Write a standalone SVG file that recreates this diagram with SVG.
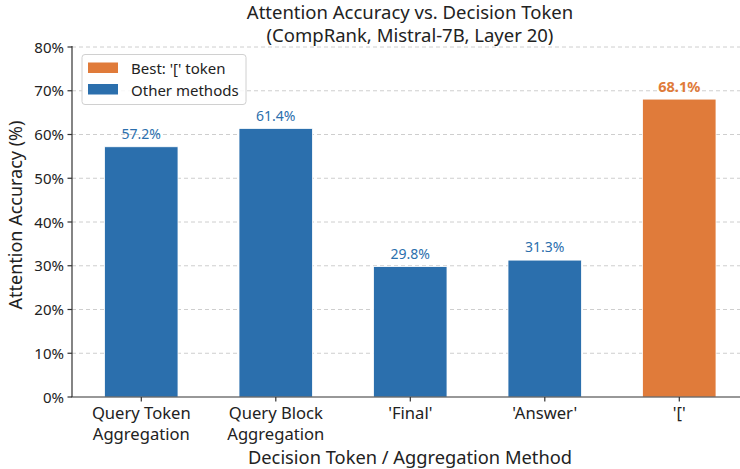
<svg xmlns="http://www.w3.org/2000/svg" width="740" height="469" viewBox="0 0 740 469">
<style>
text{font-family:"Noto Sans","Open Sans","DejaVu Sans",sans-serif;fill:#222}
.grid{stroke:#c8c8c8;stroke-width:0.9;stroke-dasharray:4,3}
.tick{font-size:15px}
.val{font-size:14px;fill:#2b6fad;text-anchor:middle}
.blue{fill:#2b6fad;stroke:#fff;stroke-width:0.8}
.orange{fill:#e07b3a;stroke:#fff;stroke-width:0.8}
.spine{stroke:#333;stroke-width:1.2}
</style>
<rect width="740" height="469" fill="#fff"/>
<g id="grid">
<line class="grid" x1="72" y1="47" x2="740" y2="47"/>
<line class="grid" x1="72" y1="90.75" x2="740" y2="90.75"/>
<line class="grid" x1="72" y1="134.5" x2="740" y2="134.5"/>
<line class="grid" x1="72" y1="178.25" x2="740" y2="178.25"/>
<line class="grid" x1="72" y1="222" x2="740" y2="222"/>
<line class="grid" x1="72" y1="265.75" x2="740" y2="265.75"/>
<line class="grid" x1="72" y1="309.5" x2="740" y2="309.5"/>
<line class="grid" x1="72" y1="353.25" x2="740" y2="353.25"/>
</g>
<g id="bar-query-token"><rect class="blue" x="104.5" y="146.75" width="73.5" height="250.25"/><text class="val" x="141.3" y="139">57.2%</text></g>
<g id="bar-query-block"><rect class="blue" x="239" y="128.4" width="73.5" height="268.6"/><text class="val" x="275.8" y="121">61.4%</text></g>
<g id="bar-final"><rect class="blue" x="373.5" y="266.6" width="73.5" height="130.4"/><text class="val" x="410.3" y="259">29.8%</text></g>
<g id="bar-answer"><rect class="blue" x="508" y="260.1" width="73.5" height="136.9"/><text class="val" x="544.8" y="252">31.3%</text></g>
<g id="bar-bracket"><rect class="orange" x="642.5" y="99.1" width="73.5" height="297.9"/><text class="val" x="679.3" y="91.5" style="fill:#e07b3a;font-weight:bold;font-size:14.5px">68.1%</text></g>
<g id="axes">
<line class="spine" x1="72" y1="46" x2="72" y2="397"/>
<line class="spine" x1="71.4" y1="397" x2="740" y2="397"/>
<g stroke="#333" stroke-width="1.2">
<line x1="67.5" y1="47" x2="72" y2="47"/><line x1="67.5" y1="90.75" x2="72" y2="90.75"/><line x1="67.5" y1="134.5" x2="72" y2="134.5"/><line x1="67.5" y1="178.25" x2="72" y2="178.25"/><line x1="67.5" y1="222" x2="72" y2="222"/><line x1="67.5" y1="265.75" x2="72" y2="265.75"/><line x1="67.5" y1="309.5" x2="72" y2="309.5"/><line x1="67.5" y1="353.25" x2="72" y2="353.25"/><line x1="67.5" y1="397" x2="72" y2="397"/>
<line x1="141.3" y1="397" x2="141.3" y2="401.5"/><line x1="275.8" y1="397" x2="275.8" y2="401.5"/><line x1="410.3" y1="397" x2="410.3" y2="401.5"/><line x1="544.8" y1="397" x2="544.8" y2="401.5"/><line x1="679.3" y1="397" x2="679.3" y2="401.5"/>
</g>
<g class="tick" text-anchor="end">
<text x="64" y="52.5">80%</text><text x="64" y="96.25">70%</text><text x="64" y="140">60%</text><text x="64" y="183.75">50%</text><text x="64" y="227.5">40%</text><text x="64" y="271.25">30%</text><text x="64" y="315">20%</text><text x="64" y="358.75">10%</text><text x="64" y="402.5">0%</text>
</g>
<g class="tick" text-anchor="middle" style="font-size:16.6px">
<text x="141.3" y="418.5">Query Token</text><text x="141.3" y="439.5">Aggregation</text>
<text x="275.8" y="418.5">Query Block</text><text x="275.8" y="439.5">Aggregation</text>
<text x="410.3" y="418.5">'Final'</text>
<text x="544.8" y="418.5">'Answer'</text>
<text x="679.3" y="418.5">'['</text>
</g>
<text x="410" y="464" text-anchor="middle" font-size="18.3">Decision Token / Aggregation Method</text>
<text transform="translate(22,215) rotate(-90)" text-anchor="middle" font-size="18">Attention Accuracy (%)</text>
</g>
<g id="title" text-anchor="middle" font-size="18.5">
<text x="410" y="19">Attention Accuracy vs. Decision Token</text>
<text x="410" y="42">(CompRank, Mistral-7B, Layer 20)</text>
</g>
<g id="legend">
<rect x="82" y="54.5" width="164" height="50" rx="3" fill="#fff" fill-opacity="0.85" stroke="#d0d0d0" stroke-width="1"/>
<rect x="88" y="62.5" width="30" height="10.5" fill="#e07b3a"/>
<rect x="88" y="84" width="30" height="10.5" fill="#2b6fad"/>
<text x="131" y="73.5" font-size="15">Best: '[' token</text>
<text x="131" y="95.5" font-size="15">Other methods</text>
</g>
</svg>
